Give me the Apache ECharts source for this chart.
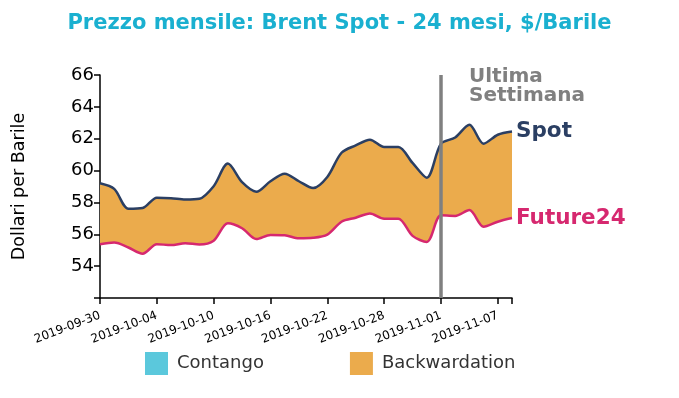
<!DOCTYPE html>
<html lang="it">
<head>
    <meta charset="UTF-8">
    <title>Brent Spot - 24 mesi</title>
    <script src="https://cdn.jsdelivr.net/npm/echarts@6/dist/echarts.min.js"></script>
    <style>
        html, body { margin: 0; padding: 0; background: #fff; }
        #chart { width: 679px; height: 398px; }
    </style>
</head>
<body>
    <div id="chart"></div>
    <script>
        // giorni di borsa
        var dates = ['2019-09-30', '2019-10-01', '2019-10-02', '2019-10-03', '2019-10-04',
            '2019-10-07', '2019-10-08', '2019-10-09', '2019-10-10', '2019-10-11',
            '2019-10-14', '2019-10-15', '2019-10-16', '2019-10-17', '2019-10-18',
            '2019-10-21', '2019-10-22', '2019-10-23', '2019-10-24', '2019-10-25',
            '2019-10-28', '2019-10-29', '2019-10-30', '2019-10-31', '2019-11-01',
            '2019-11-04', '2019-11-05', '2019-11-06', '2019-11-07', '2019-11-08'];
        var spot = [59.2, 58.85, 57.6, 57.65, 58.3, 58.27, 58.18, 58.23, 59.02, 60.44,
            59.27, 58.67, 59.33, 59.8, 59.33, 58.9, 59.6, 61.12, 61.58, 61.94,
            61.48, 61.48, 60.48, 59.55, 61.68, 62.08, 62.88, 61.69, 62.25, 62.45];
        var future24 = [55.37, 55.48, 55.17, 54.78, 55.38, 55.32, 55.44, 55.36, 55.6, 56.69,
            56.38, 55.7, 55.96, 55.94, 55.75, 55.78, 55.98, 56.79, 57.04, 57.31,
            56.98, 56.98, 55.9, 55.52, 57.19, 57.15, 57.52, 56.47, 56.79, 57.02];
        var yTicks = [54, 56, 58, 60, 62, 64, 66];
        var lastWeek = '2019-11-01';

        var spread = spot.map(function (v, i) { return +(v - future24[i]).toFixed(2); });

        var chart = echarts.init(document.getElementById('chart'));
        var font = 'DejaVu Sans';
        var option = {
            animation: false,
            textStyle: { fontFamily: font },
            title: {
                text: 'Prezzo mensile: Brent Spot - 24 mesi, $/Barile',
                left: 'center',
                top: 8,
                textStyle: { color: '#1ab0d0', fontSize: 21, fontWeight: 'bold', fontFamily: font }
            },
            legend: {
                data: ['Contango', 'Backwardation'],
                left: 140,
                top: 347,
                icon: 'rect',
                itemWidth: 23,
                itemHeight: 23,
                itemGap: 86,
                textStyle: { fontSize: 18, color: '#333', fontFamily: font, padding: [0, 0, 0, 4] }
            },
            grid: { left: 100, right: 167, top: 75, bottom: 100 },
            xAxis: {
                type: 'category',
                data: dates,
                boundaryGap: false,
                axisLine: { lineStyle: { color: '#000', width: 1.5 } },
                axisTick: {
                    length: 6,
                    lineStyle: { color: '#000', width: 1.5 },
                    interval: function (i) { return i % 4 === 0 || i === dates.length - 1; }
                },
                axisLabel: {
                    interval: 3,
                    rotate: 21,
                    color: '#000',
                    fontSize: 12,
                    margin: 17
                },
                splitLine: { show: false }
            },
            yAxis: {
                type: 'value',
                min: 52,
                max: 66,
                interval: 2,
                name: 'Dollari per Barile',
                nameLocation: 'middle',
                nameGap: 72,
                nameRotate: 90,
                nameTextStyle: { fontSize: 17.5, color: '#000', fontFamily: font },
                axisLine: { show: true, lineStyle: { color: '#000', width: 1.5 } },
                axisTick: { show: true, length: 6, lineStyle: { color: '#000', width: 1.5 } },
                axisLabel: {
                    color: '#000',
                    fontSize: 18,
                    margin: 6,
                    formatter: function (v) { return yTicks.indexOf(v) >= 0 ? v : ''; }
                },
                splitLine: { show: false }
            },
            series: [
                {
                    name: 'Contango',
                    type: 'line',
                    data: [],
                    itemStyle: { color: '#5bc8dc' }
                },
                {
                    name: 'base',
                    type: 'line',
                    stack: 'band',
                    data: future24,
                    smooth: 0.3,
                    symbol: 'none',
                    lineStyle: { width: 0, opacity: 0 },
                    silent: true
                },
                {
                    name: 'Backwardation',
                    type: 'line',
                    stack: 'band',
                    data: spread,
                    smooth: 0.3,
                    symbol: 'none',
                    lineStyle: { width: 0, opacity: 0 },
                    itemStyle: { color: '#ebab4c' },
                    areaStyle: { color: '#ebab4c', opacity: 1 },
                    markLine: {
                        silent: true,
                        symbol: 'none',
                        label: { show: false },
                        lineStyle: { color: '#808080', width: 3.5, type: 'solid' },
                        data: [[{ xAxis: lastWeek, yAxis: 66 }, { xAxis: lastWeek, yAxis: 52 }]]
                    }
                },
                {
                    name: 'Spot',
                    type: 'line',
                    data: spot,
                    smooth: 0.3,
                    symbol: 'none',
                    z: 4,
                    lineStyle: { color: '#2b3f63', width: 2.5 },
                    endLabel: {
                        show: true,
                        formatter: 'Spot',
                        color: '#2b3f63',
                        fontSize: 21.5,
                        fontWeight: 'bold',
                        distance: 4
                    }
                },
                {
                    name: 'Future24',
                    type: 'line',
                    data: future24,
                    smooth: 0.3,
                    symbol: 'none',
                    z: 4,
                    lineStyle: { color: '#d6286f', width: 2.5 },
                    endLabel: {
                        show: true,
                        formatter: 'Future24',
                        color: '#d6286f',
                        fontSize: 21.5,
                        fontWeight: 'bold',
                        distance: 4
                    }
                }
            ],
            graphic: [
                {
                    type: 'text',
                    left: 469,
                    top: 67,
                    style: {
                        text: 'Ultima\nSettimana',
                        fill: '#808080',
                        font: 'bold 20px "DejaVu Sans"',
                        lineHeight: 19
                    }
                }
            ]
        };
        chart.setOption(option);
    </script>
</body>
</html>
